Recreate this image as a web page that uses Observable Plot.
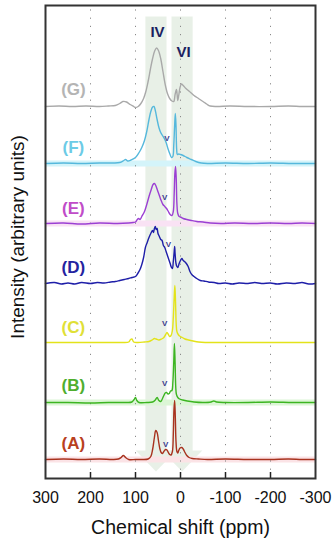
<!DOCTYPE html>
<html>
<head>
<meta charset="utf-8">
<script src="https://cdn.jsdelivr.net/npm/d3@7"></script>
<script src="https://cdn.jsdelivr.net/npm/@observablehq/plot@0.6"></script>
<style>
  html, body { margin: 0; padding: 0; background: #fff; }
  #chart { width: 334px; height: 550px; }
  svg { font-family: "Liberation Sans", Arial, sans-serif; }
</style>
</head>
<body>
<div id="chart"></div>
<script>
// ---- data (ppm, intensity above each spectrum's baseline) ----
const names = ["A", "B", "C", "D", "E", "F", "G"];
const baselines = [19, 76, 136, 195, 255, 315, 372];
const lineColors = ["#a8321e", "#3cb521", "#e3e31a", "#1e1ea8", "#9b3fd3", "#55b8dc", "#a9a9a9"];
const labelColors = ["#b94020", "#4fae2e", "#e0e036", "#2424a0", "#c04cc8", "#6ccbe6", "#b4b4b4"];
const labelY = [35, 93, 151, 211, 270, 331, 389];
const labelPpm = 238;
const vPpm = [33, 35, 35, 27, 35, 30];
const vY = [34, 95, 155, 234, 281, 340];
const xTicks = [300, 200, 100, 0, -100, -200, -300];
const bandIV = [78, 31];
const bandVI = [20, -27];
const bandTop = 462, headTop = 28, headTip = 7, headHalf = 45;
const romanLabels = [{t: "IV", ppm: 51, y: 446}, {t: "VI", ppm: -7, y: 426}];

const specA = [[300,0],[260,0.5],[220,0],[180,0.5],[150,0],[138,0.5],[132,2],[127,4],[122,2],[115,0],[100,0],[85,0],[72,0.5],[66,3],[62,10],[58,22],[55,29],[52,27],[49,19],[46,11],[43,7],[40,6],[37,8],[33,10],[30,9.5],[27,7],[24,5],[21,4.5],[18,8],[16,25],[14.5,50],[13,59],[11.5,42],[10,18],[8,8],[6,6.5],[4,9],[1,11.5],[-3,12],[-6,10.5],[-10,7],[-14,4],[-19,2],[-26,1],[-40,0.5],[-60,0],[-100,0.5],[-150,0],[-200,0],[-240,0.5],[-270,0],[-300,0]];
const specB = [[300,0],[250,0],[200,-0.5],[160,0],[120,0],[108,0.5],[103,3],[100,5],[97,2],[92,0],[75,0],[62,0.5],[56,2.5],[52,5],[48,2],[44,1],[40,4],[37,7],[34,9.5],[31,10],[28,8.5],[25,9],[22,11.5],[19,12],[17,20],[15,40],[13.5,59],[12,40],[10.5,15],[9,8],[6,5],[2,3.5],[-5,2.5],[-15,1.5],[-30,0.5],[-50,0],[-68,0.5],[-74,1.5],[-80,0.5],[-100,0],[-150,0],[-200,0.5],[-250,0],[-300,0]];
const specC = [[300,0],[250,0],[200,0],[160,0],[130,0],[115,0.5],[111,3],[108,3.5],[104,0.5],[95,0],[80,0.5],[70,1],[63,2.5],[58,4],[54,3.5],[48,2.5],[42,3.5],[37,5],[33,8],[30,10],[27,8],[24,6],[21,7],[18,12],[16,25],[14,45],[12.5,57],[11,40],[9.5,18],[8,11],[5,8],[2,6.5],[-4,5],[-10,3.5],[-18,2.5],[-28,1.5],[-40,0.5],[-55,0],[-100,0],[-200,0],[-300,0]];
const specD = [[300,0],[280,1],[265,-0.5],[250,0.5],[235,-0.5],[220,1],[200,0],[185,1],[170,0.5],[155,1.5],[145,2],[135,3],[125,4],[115,5],[108,6],[100,7],[95,10],[90,14],[86,19],[82,26],[78,36],[74,41],[70,46],[66,50],[62,53],[60,51],[58,55],[56,57],[54,54],[52,55],[50,50],[47,47],[44,44],[41,43],[38,38],[35,36],[32,32],[29,28],[26,24],[23,20],[20,16],[18,15],[16,22],[14,32],[13,37],[12,30],[10,20],[8,17],[6,16],[3,20],[0,23],[-3,25],[-6,23],[-9,22],[-13,20],[-17,17],[-21,12],[-25,9],[-30,7],[-36,5],[-44,3],[-52,2.5],[-62,1.5],[-75,1],[-85,0],[-100,0.5],[-115,-0.5],[-130,0.5],[-150,0],[-165,1],[-180,0],[-200,0.5],[-215,-0.5],[-235,0.5],[-255,0],[-270,1],[-285,-0.5],[-300,0]];
const specE = [[300,0],[260,0.5],[220,-0.5],[180,0.5],[140,0],[115,0.5],[105,1],[100,1.5],[96,4],[93,5],[90,4],[86,7],[80,12],[75,19],[70,27],[65,34],[61,39],[58,40],[55,38],[51,33],[47,28],[43,23],[39,19],[35,17],[31,15],[27,12],[23,9],[19,8],[16,12],[14,30],[12.5,50],[11,57],[9.5,45],[8,20],[6,10],[3,7],[0,6.5],[-6,5],[-14,4],[-24,3],[-36,2],[-50,1.5],[-66,0.5],[-90,0],[-120,0.5],[-160,0],[-200,0.5],[-240,0],[-270,0.5],[-300,0]];
const specF = [[300,0],[260,0.5],[220,0],[180,0.5],[150,0.5],[135,1],[126,3],[122,4],[117,2.5],[110,3.5],[100,6],[92,11],[86,16],[80,23],[75,32],[70,44],[66,52],[62,56.5],[59,57],[56,53],[52,44],[48,36],[44,31],[40,28],[36,25],[32,21],[28,15],[24,10],[20,6],[17,7],[15,18],[13,38],[11.5,50],[10,38],[8.5,14],[7,9],[4,9.5],[0,9],[-6,8],[-14,6],[-24,4],[-34,2],[-46,0.5],[-60,0],[-100,0.5],[-150,0],[-200,0.5],[-250,0],[-300,0]];
const specG = [[300,0],[270,0.5],[240,0],[210,0.5],[180,0],[160,0.5],[145,1],[135,3],[128,5],[120,4.5],[112,2],[104,0],[100,-1],[94,0],[88,3],[82,8],[77,15],[72,25],[67,37],[62,48],[57,56],[53,58.5],[49,56],[44,48],[39,35],[34,22],[29,13],[24,8],[19,5.5],[15,5],[12,12],[9,17],[7.5,12],[6,6],[4,11],[1,19],[-2,22.5],[-6,21],[-12,18],[-20,15],[-30,11],[-40,8],[-50,5],[-58,2.5],[-66,0.5],[-80,0],[-110,0.5],[-150,0],[-200,0],[-240,0.5],[-270,0],[-300,0]];
const specs = [specA, specB, specC, specD, specE, specF, specG];
const glowColors = {A: "#fbe3e6", B: "#dcf6d6", E: "#f9e2f4", F: "#d4f4fa"};

// ---- derived tables ----
function bandPoly(b) {
  const c = (b[0] + b[1]) / 2;
  return [
    {x: b[0], y: bandTop}, {x: b[1], y: bandTop}, {x: b[1], y: headTop},
    {x: c - headHalf, y: headTop}, {x: c, y: headTip}, {x: c + headHalf, y: headTop},
    {x: b[0], y: headTop}
  ];
}
const glowRows = names.filter(n => glowColors[n]).map(n => ({y: baselines[names.indexOf(n)], c: glowColors[n]}));
const labelRows = names.map((n, i) => ({t: `(${n})`, x: labelPpm, y: labelY[i], c: labelColors[i]}));
const vRows = vPpm.map((p, i) => ({x: p, y: vY[i]}));

const marks = [
  Plot.line(bandPoly(bandIV), {x: "x", y: "y", fill: "#e5eee4", stroke: "none", fillOpacity: 0.9}),
  Plot.line(bandPoly(bandVI), {x: "x", y: "y", fill: "#e5eee4", stroke: "none", fillOpacity: 0.9}),
  Plot.ruleY(glowRows, {y: "y", x1: 300, x2: -300, stroke: "c", strokeWidth: 6}),
  Plot.ruleX(xTicks.slice(1, -1), {x: d => d, y1: 0, y2: 473, stroke: "#8a8a8a", strokeDasharray: "1.2,7", strokeWidth: 1}),
  Plot.ruleX(xTicks.slice(1, -1), {x: d => d, y1: 0, y2: 6, stroke: "#222", strokeWidth: 1.5}),
  ...specs.map((s, i) => Plot.line(s.map(([ppm, h]) => ({ppm, y: baselines[i] + h})), {
    x: "ppm", y: "y", stroke: lineColors[i], strokeWidth: 1.4, curve: "catmull-rom"
  })),
  Plot.text(labelRows, {x: "x", y: "y", text: "t", fill: "c", fontSize: 17, fontWeight: "bold"}),
  Plot.text(vRows, {x: "x", y: "y", text: d => "V", fill: "#3a3a8e", fontSize: 8, fontWeight: "bold"}),
  Plot.text(romanLabels, {x: "ppm", y: "y", text: "t", fill: "#1b1f60", fontSize: 15, fontWeight: "bold"}),
  Plot.frame({stroke: "#333", strokeWidth: 2}),
  Plot.axisX(xTicks, {tickSize: 0, tickPadding: 13.5, fontSize: 16, fill: "#111", label: null, tickFormat: d => String(d)}),
  Plot.text(["Chemical shift (ppm)"], {frameAnchor: "bottom", dy: 55, fontSize: 19.5, fill: "#111"}),
  Plot.text(["Intensity (arbitrary units)"], {frameAnchor: "left", textAnchor: "middle", dx: -28, dy: -5, rotate: -90, fontSize: 19, fill: "#111"})
];

const chart = Plot.plot({
  width: 334,
  height: 550,
  marginLeft: 45,
  marginRight: 19,
  marginTop: 5,
  marginBottom: 72,
  x: {domain: [300, -300]},
  y: {domain: [0, 473], axis: null},
  color: {type: "identity"},
  style: {fontFamily: "'Liberation Sans', Arial, sans-serif", background: "#fff"},
  marks
});
document.getElementById("chart").appendChild(chart);
</script>
</body>
</html>
